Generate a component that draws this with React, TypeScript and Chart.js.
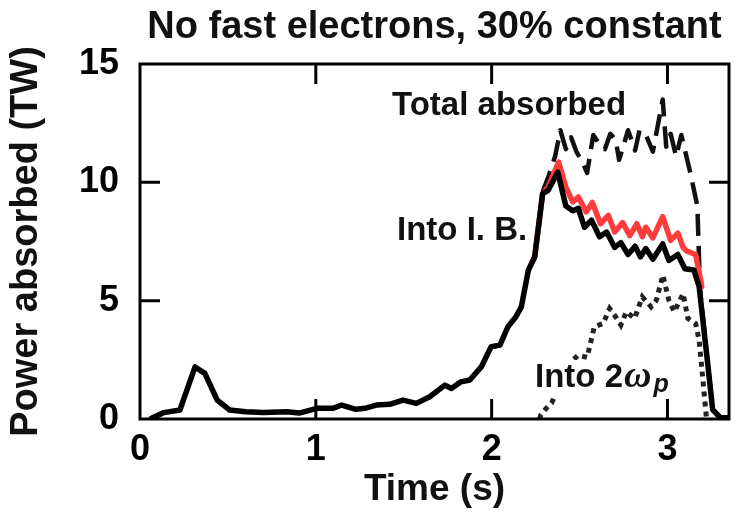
import React, { useEffect, useRef } from "react";
import { Chart, registerables } from "chart.js";

Chart.register(...registerables);

// ---- Data ----
const xTickValues = [0, 1, 2, 3];
const yTickValues = [0, 5, 10, 15];

// Into I. B. (black solid)
const ibTime = [0.065, 0.136, 0.227, 0.313, 0.369, 0.439, 0.51, 0.601, 0.702, 0.834, 0.905, 1.006, 1.097, 1.147, 1.228, 1.279, 1.344, 1.42, 1.496, 1.572, 1.648, 1.734, 1.771, 1.825, 1.876, 1.941, 1.997, 2.047, 2.093, 2.138, 2.169, 2.209, 2.245, 2.29, 2.321, 2.376, 2.422, 2.462, 2.493, 2.528, 2.568, 2.614, 2.654, 2.7, 2.735, 2.776, 2.816, 2.846, 2.877, 2.917, 2.973, 3.008, 3.059, 3.099, 3.15, 3.18, 3.231, 3.257, 3.302, 3.345];
const ibPower = [0.03, 0.27, 0.38, 2.2, 1.93, 0.8, 0.38, 0.31, 0.27, 0.31, 0.25, 0.45, 0.45, 0.59, 0.41, 0.45, 0.59, 0.62, 0.8, 0.66, 0.94, 1.43, 1.29, 1.57, 1.65, 2.2, 3.05, 3.12, 3.9, 4.32, 4.74, 6.29, 6.85, 9.52, 9.66, 10.43, 9.0, 8.8, 8.9, 8.1, 8.4, 7.7, 7.9, 7.25, 7.45, 6.95, 7.3, 6.85, 7.2, 6.75, 7.4, 6.7, 6.95, 6.35, 6.3, 5.6, 2.2, 0.4, 0.05, 0.05];

// Second I. B. curve (red solid)
const ibRedTime = [2.209, 2.245, 2.29, 2.321, 2.381, 2.422, 2.462, 2.493, 2.538, 2.573, 2.619, 2.664, 2.7, 2.745, 2.786, 2.826, 2.857, 2.877, 2.917, 2.973, 3.018, 3.059, 3.089, 3.109, 3.16, 3.18, 3.195];
const ibRedPower = [6.29, 6.85, 9.52, 9.8, 10.86, 9.8, 9.17, 9.38, 8.75, 9.15, 8.25, 8.6, 7.9, 8.3, 7.75, 8.25, 7.7, 8.1, 7.65, 8.55, 7.55, 7.85, 7.25, 7.1, 6.95, 6.2, 5.6];

// Total absorbed (black dashed)
const totalTime = [2.29, 2.321, 2.361, 2.391, 2.422, 2.452, 2.482, 2.513, 2.543, 2.578, 2.614, 2.644, 2.675, 2.705, 2.725, 2.776, 2.816, 2.841, 2.877, 2.917, 2.973, 2.993, 3.018, 3.049, 3.079, 3.13, 3.17, 3.185, 3.231, 3.257, 3.3];
const totalPower = [9.6, 10.2, 11.1, 12.2, 11.4, 11.9, 11.3, 10.9, 10.4, 12.0, 11.6, 11.4, 12.05, 11.8, 10.95, 12.2, 11.35, 12.2, 12.0, 11.3, 13.5, 11.5, 12.05, 11.1, 12.0, 10.4, 9.0, 5.5, 2.2, 0.4, 0.05];

// Into 2 omega_p (dotted)
const twoWpTime = [2.272, 2.28, 2.31, 2.341, 2.442, 2.493, 2.543, 2.584, 2.634, 2.671, 2.705, 2.735, 2.766, 2.813, 2.857, 2.907, 2.937, 2.974, 3.008, 3.039, 3.089, 3.116, 3.16, 3.18, 3.2, 3.221];
const twoWpPower = [0.0, 0.17, 0.45, 0.67, 2.35, 2.7, 2.6, 3.9, 4.03, 4.67, 4.32, 3.97, 4.53, 4.25, 5.16, 4.74, 5.02, 6.08, 5.02, 4.53, 5.3, 4.25, 4.03, 3.33, 1.78, 0.1];

const titleText = "No fast electrons, 30% constant";
const xTitle = "Time (s)";
const yTitle = "Power absorbed (TW)";
const totalLabel = "Total absorbed";
const ibLabel = "Into I. B.";
const wpLabelMain = "Into 2";
const wpLabelOmega = "ω";
const wpLabelSub = "p";

const FONT = "'Liberation Sans', Arial, Helvetica, sans-serif";

const pts = (xs: number[], ys: number[]) => xs.map((x, i) => ({ x, y: ys[i] }));

export default function App() {
  const ref = useRef<HTMLCanvasElement>(null);

  useEffect(() => {
    document.body.style.margin = "0";
    const canvas = ref.current;
    if (!canvas) return;

    const decor = {
      id: "decor",
      afterDatasetsDraw(chart: any) {
        const { ctx, chartArea: a, scales } = chart;
        const xs = scales.x;
        const ys = scales.y;
        ctx.save();
        // white box behind the 2ωp label
        ctx.fillStyle = "#fff";
        ctx.fillRect(a.left + 394, 360, 140, 38);

        ctx.fillStyle = "#111";
        ctx.textBaseline = "alphabetic";
        ctx.textAlign = "left";
        ctx.font = `bold 33px ${FONT}`;
        ctx.fillText(totalLabel, a.left + 252, 115);
        ctx.fillText(ibLabel, a.left + 257, 240);

        const lx = a.left + 395;
        const ly = 387;
        ctx.font = `bold 33px ${FONT}`;
        ctx.fillText(wpLabelMain, lx, ly);
        const w1 = ctx.measureText(wpLabelMain).width;
        ctx.font = `italic bold 38px 'Liberation Serif', serif`;
        ctx.fillText(wpLabelOmega, lx + w1 + 1, ly);
        const w2 = ctx.measureText(wpLabelOmega).width;
        ctx.font = `italic bold 25px ${FONT}`;
        ctx.fillText(wpLabelSub, lx + w1 + w2 + 3, ly + 5);

        // frame
        ctx.strokeStyle = "#000";
        ctx.lineWidth = 3;
        ctx.strokeRect(a.left, a.top, a.right - a.left, a.bottom - a.top);

        // inward ticks on all four sides
        const tl = 20;
        ctx.beginPath();
        xTickValues.forEach((v) => {
          const px = xs.getPixelForValue(v);
          if (px <= a.left + 1 || px >= a.right - 1) return;
          ctx.moveTo(px, a.bottom);
          ctx.lineTo(px, a.bottom - tl);
          ctx.moveTo(px, a.top);
          ctx.lineTo(px, a.top + tl);
        });
        yTickValues.forEach((v) => {
          const py = ys.getPixelForValue(v);
          if (py <= a.top + 1 || py >= a.bottom - 1) return;
          ctx.moveTo(a.left, py);
          ctx.lineTo(a.left + tl, py);
          ctx.moveTo(a.right, py);
          ctx.lineTo(a.right - tl, py);
        });
        ctx.stroke();

        // title
        ctx.fillStyle = "#111";
        ctx.textAlign = "center";
        ctx.font = `bold 38px ${FONT}`;
        ctx.fillText(titleText, (a.left + a.right) / 2, 38);
        ctx.restore();
      },
    };

    const chart = new Chart(canvas, {
      type: "line",
      data: {
        datasets: [
          {
            label: "Into I. B.",
            data: pts(ibTime, ibPower),
            borderColor: "#000",
            borderWidth: 5.5,
            borderJoinStyle: "round",
            borderCapStyle: "round",
            pointRadius: 0,
            tension: 0,
            fill: false,
            order: 0,
          },
          {
            label: "Into I. B. (red)",
            data: pts(ibRedTime, ibRedPower),
            borderColor: "#ff3b3b",
            borderWidth: 5.5,
            borderJoinStyle: "round",
            borderCapStyle: "round",
            pointRadius: 0,
            tension: 0,
            fill: false,
            order: 1,
          },
          {
            label: "Total absorbed",
            data: pts(totalTime, totalPower),
            borderColor: "#111",
            borderWidth: 4.5,
            borderDash: [22, 10],
            borderJoinStyle: "round",
            pointRadius: 0,
            tension: 0,
            fill: false,
            order: 2,
          },
          {
            label: "Into 2wp",
            data: pts(twoWpTime, twoWpPower),
            borderColor: "#222",
            borderWidth: 5,
            borderDash: [5, 5],
            borderCapStyle: "butt",
            pointRadius: 0,
            tension: 0,
            fill: false,
            order: 3,
          },
        ],
      },
      options: {
        responsive: false,
        animation: false,
        devicePixelRatio: 1,
        layout: { padding: { top: 64, right: 7, left: 0, bottom: 0 } },
        plugins: {
          legend: { display: false },
          tooltip: { enabled: false },
          title: { display: false },
        },
        scales: {
          x: {
            type: "linear",
            min: 0,
            max: 3.35,
            afterFit: (s: any) => {
              s.height = 93;
            },
            afterBuildTicks: (s: any) => {
              s.ticks = xTickValues.map((v) => ({ value: v }));
            },
            grid: { display: false, drawTicks: false },
            border: { display: false },
            ticks: {
              color: "#000",
              padding: 9,
              maxRotation: 0,
              autoSkip: false,
              font: { family: FONT, size: 36, weight: "bold" },
            },
            title: {
              display: true,
              text: xTitle,
              color: "#111",
              font: { family: FONT, size: 37, weight: "bold" },
              padding: { top: 0, bottom: 0 },
            },
          },
          y: {
            type: "linear",
            min: 0,
            max: 15,
            afterFit: (s: any) => {
              s.width = 140;
            },
            afterBuildTicks: (s: any) => {
              s.ticks = yTickValues.map((v) => ({ value: v }));
            },
            grid: { display: false, drawTicks: false },
            border: { display: false },
            ticks: {
              color: "#000",
              padding: 21,
              autoSkip: false,
              font: { family: FONT, size: 36, weight: "bold" },
            },
            title: {
              display: true,
              text: yTitle,
              color: "#111",
              font: { family: FONT, size: 38, weight: "bold" },
              padding: { top: 4, bottom: 0 },
            },
          },
        },
      },
      plugins: [decor],
    } as any);

    return () => chart.destroy();
  }, []);

  return (
    <div style={{ width: 736, height: 512 }}>
      <canvas ref={ref} width={736} height={512} style={{ display: "block" }} />
    </div>
  );
}
